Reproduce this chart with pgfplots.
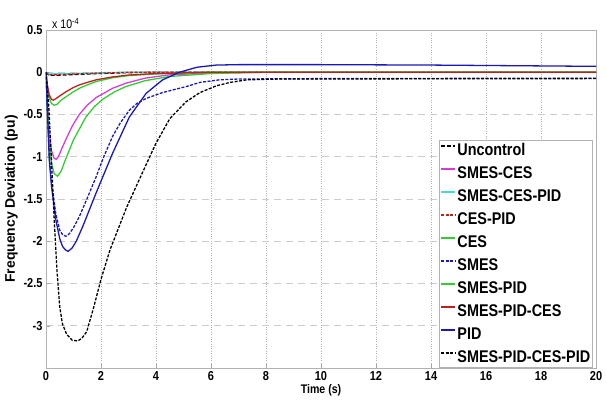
\documentclass[border=0pt]{standalone}
\usepackage{fontspec}
\setmainfont{Liberation Sans}
\newfontfamily\narrowfont{Liberation Sans}[FakeStretch=0.85]
\usepackage{pgfplots}
\pgfplotsset{compat=1.18}

\definecolor{cPID}{RGB}{25,25,185}
\definecolor{cMag}{RGB}{215,60,215}
\definecolor{cGrn}{RGB}{50,205,50}
\definecolor{cRed}{RGB}{185,35,30}
\definecolor{cCyan}{RGB}{70,220,220}

\begin{document}
\begin{tikzpicture}
\useasboundingbox (-46bp,-32bp) rectangle (560bp,368bp);
\begin{axis}[
    name=main,
    scale only axis,
    width=550bp, height=338bp,
    xmin=0, xmax=20,
    ymin=-3.5, ymax=0.5,
    xtick={0,2,...,20},
    ytick={-3,-2.5,...,0.5},
    /pgf/number format/assume math mode=true,
    ticklabel style={font=\narrowfont\bfseries\fontsize{13}{15}\selectfont},
    tick pos=left,
    tick align=inside,
    major tick length=4bp,
    tick style={gray!70},
    axis line style={gray!60, line width=0.8pt},
    grid=major,
    major x grid style={dotted, gray!60, line width=0.5pt},
    major y grid style={dash pattern=on 7bp off 5bp, gray!40, line width=0.6pt},
    xlabel={Time (s)},
    xlabel style={font=\narrowfont\bfseries\fontsize{12.5}{14}\selectfont, yshift=3bp},
    ylabel={Frequency Deviation (pu)},
    ylabel style={font=\bfseries\fontsize{14}{16}\selectfont, at={(axis description cs:-0.045,0.5)}, anchor=south},
    legend cell align=left,
    legend style={at={(0.9945,0)}, anchor=south east, draw=gray!60, line width=0.6pt,
        font=\narrowfont\bfseries\fontsize{17}{19}\selectfont,
        inner xsep=1bp, inner ysep=2bp, row sep=6.7bp,
        nodes={inner sep=1.5bp}},
    legend image code/.code={\draw[#1, line width=1.5pt] (0bp,4.5bp) -- (14bp,4.5bp);},
    every axis plot/.append style={line width=1.3pt},
]

% Uncontrol
\addplot[black, dash pattern=on 4pt off 2pt] coordinates {
(0,0)(0.1,-0.035)(0.5,-0.035)(1,-0.028)(2,-0.015)(3,-0.005)(4,0)(20,0)};
\addlegendentry{Uncontrol}

% SMES-CES
\addplot[cMag] coordinates {
(0,0)(0.05,-0.35)(0.12,-0.72)(0.2,-0.93)(0.3,-1.02)(0.37,-1.03)(0.45,-1.0)(0.58,-0.9)
(0.73,-0.79)(0.95,-0.64)(1.21,-0.5)(1.5,-0.39)(1.82,-0.3)(2.42,-0.19)(2.9,-0.13)
(3.6,-0.07)(4.5,-0.03)(6,-0.01)(8,0)(20,0)};
\addlegendentry{SMES-CES}

% SMES-CES-PID
\addplot[cCyan] coordinates {
(0,0)(0.1,-0.02)(1,-0.015)(2,-0.005)(3,0)(20,0)};
\addlegendentry{SMES-CES-PID}

% CES-PID
\addplot[cRed, dash pattern=on 3pt off 1.5pt] coordinates {
(0,0)(0.1,-0.03)(0.5,-0.028)(1,-0.02)(2,-0.01)(3,0)(20,0)};
\addlegendentry{CES-PID}

% CES
\addplot[cGrn] coordinates {
(0,0)(0.05,-0.4)(0.12,-0.85)(0.2,-1.08)(0.3,-1.2)(0.42,-1.23)(0.55,-1.17)(0.7,-1.04)
(0.85,-0.92)(1.0,-0.8)(1.2,-0.68)(1.45,-0.53)(1.75,-0.41)(2.06,-0.32)(2.5,-0.23)
(2.9,-0.17)(3.6,-0.1)(4.5,-0.05)(6,-0.015)(8,0)(20,0)};
\addlegendentry{CES}

% SMES
\addplot[cPID, dash pattern=on 3pt off 1.5pt] coordinates {
(0,0)(0.05,-0.45)(0.12,-1.0)(0.2,-1.3)(0.36,-1.68)(0.5,-1.87)(0.62,-1.93)(0.73,-1.94)
(0.85,-1.91)(1.0,-1.84)(1.21,-1.71)(1.5,-1.49)(1.82,-1.24)(2.1,-1.0)(2.42,-0.76)
(2.7,-0.6)(3.03,-0.45)(3.3,-0.37)(3.64,-0.31)(4.24,-0.24)(5.09,-0.17)(5.6,-0.12)
(6.3,-0.09)(7,-0.08)(10,-0.075)(20,-0.07)};
\addlegendentry{SMES}

% SMES-PID
\addplot[cGrn] coordinates {
(0,0)(0.05,-0.18)(0.12,-0.31)(0.2,-0.37)(0.3,-0.39)(0.4,-0.38)(0.55,-0.33)(0.73,-0.29)
(1.0,-0.23)(1.21,-0.19)(1.5,-0.15)(1.82,-0.11)(2.42,-0.065)(3,-0.04)(4,-0.02)(6,0)(20,0)};
\addlegendentry{SMES-PID}

% SMES-PID-CES
\addplot[cRed] coordinates {
(0,0)(0.05,-0.15)(0.12,-0.27)(0.2,-0.32)(0.27,-0.33)(0.37,-0.31)(0.5,-0.28)(0.73,-0.23)
(1.0,-0.18)(1.21,-0.15)(1.5,-0.12)(1.82,-0.09)(2.42,-0.055)(3,-0.033)(4,-0.015)(6,0)(20,0)};
\addlegendentry{SMES-PID-CES}

% PID
\addplot[cPID] coordinates {
(0,0)(0.05,-0.45)(0.12,-1.04)(0.2,-1.35)(0.36,-1.75)(0.5,-1.97)(0.6,-2.06)(0.7,-2.1)
(0.8,-2.12)(0.95,-2.08)(1.1,-2.0)(1.33,-1.83)(1.82,-1.43)(2.42,-0.96)(3.03,-0.53)
(3.64,-0.25)(4.24,-0.09)(4.85,0.0)(5.5,0.06)(6.2,0.085)(7,0.09)(10,0.09)(14,0.085)(20,0.07)};
\addlegendentry{PID}

% SMES-PID-CES-PID
\addplot[black, dash pattern=on 3pt off 1.5pt] coordinates {
(0,0)(0.1,-0.4)(0.2,-1.05)(0.3,-1.75)(0.4,-2.35)(0.5,-2.78)(0.6,-2.98)(0.75,-3.1)
(0.95,-3.17)(1.15,-3.18)(1.3,-3.15)(1.48,-3.07)(1.72,-2.8)(2.0,-2.45)(2.33,-2.1)
(2.93,-1.6)(3.42,-1.25)(4.0,-0.84)(4.5,-0.55)(5.09,-0.35)(5.6,-0.24)(6.2,-0.16)
(6.7,-0.12)(7.3,-0.09)(8.5,-0.08)(20,-0.075)};
\addlegendentry{SMES-PID-CES-PID}
\end{axis}
\node[anchor=south west, font=\narrowfont\fontsize{12.5}{14}\selectfont, inner sep=1bp]
    at ([xshift=5bp]main.north west) {x 10\textsuperscript{-4}};
\end{tikzpicture}
\end{document}
